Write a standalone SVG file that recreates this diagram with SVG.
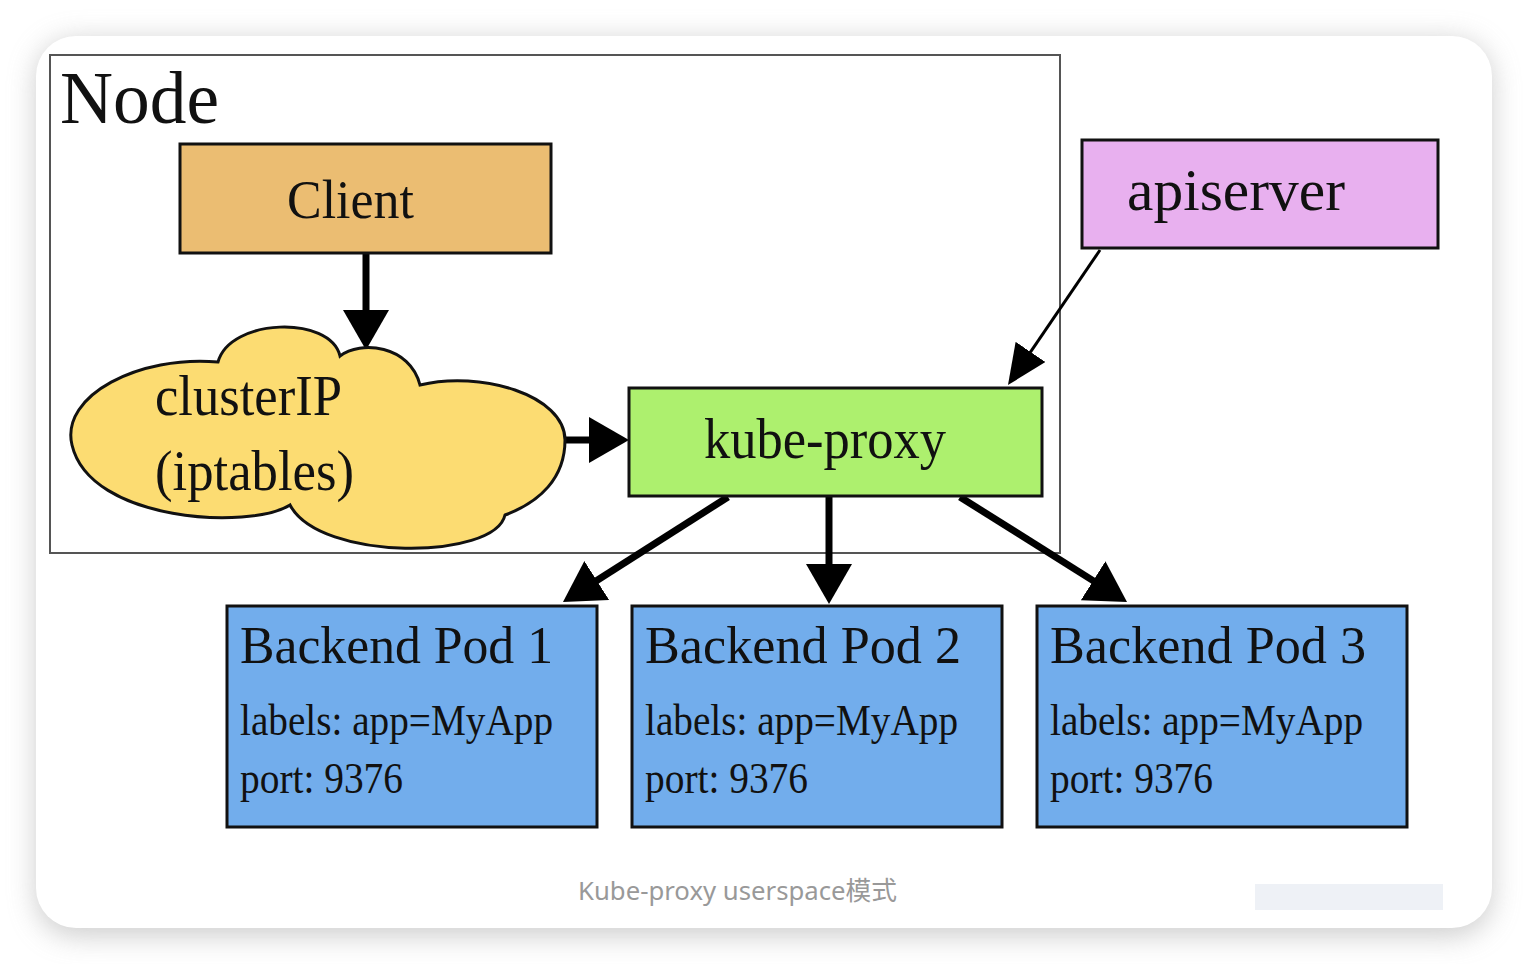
<svg xmlns="http://www.w3.org/2000/svg" width="1528" height="964" viewBox="0 0 1528 964">
  <style>
    .serif { font-family: "Liberation Serif", "Times New Roman", serif; fill: #111; }
    .box { stroke: #111; stroke-width: 3; }
    .thick { stroke: #000; stroke-width: 7; fill: none; }
    .thin { stroke: #000; stroke-width: 3; fill: none; }
  </style>
  <defs>
    <filter id="shadow" x="-10%" y="-10%" width="120%" height="120%">
      <feGaussianBlur stdDeviation="14"/>
    </filter>
    <marker id="headBig" markerUnits="userSpaceOnUse" markerWidth="40" markerHeight="46" viewBox="0 0 40 46" refX="5" refY="23" orient="auto">
      <path d="M0,0 L40,23 L0,46 Z" fill="#000"/>
    </marker>
    <marker id="headThin" markerUnits="userSpaceOnUse" markerWidth="40" markerHeight="36" viewBox="0 0 40 36" refX="5" refY="18" orient="auto">
      <path d="M0,0 L40,18 L0,36 Z" fill="#000"/>
    </marker>
  </defs>

  <!-- page background and card -->
  <rect x="0" y="0" width="1528" height="964" fill="#ffffff"/>
  <rect x="36" y="40" width="1456" height="896" rx="40" fill="#bdbdbd" filter="url(#shadow)" opacity="0.75"/>
  <rect x="36" y="36" width="1456" height="892" rx="40" fill="#ffffff"/>

  <!-- Node frame -->
  <g id="node-frame">
    <rect x="50" y="55" width="1010" height="498" fill="none" stroke="#555" stroke-width="2"/>
    <text class="serif" x="60" y="123" font-size="74" textLength="159" lengthAdjust="spacingAndGlyphs">Node</text>
  </g>

  <!-- connectors -->
  <g id="connectors">
    <line class="thick" x1="366" y1="254" x2="366" y2="315" marker-end="url(#headBig)"/>
    <line class="thick" x1="565" y1="440" x2="594" y2="440" marker-end="url(#headBig)"/>
    <line class="thin" x1="1100" y1="250" x2="1027.7" y2="356.1" marker-end="url(#headThin)"/>
    <line class="thick" x1="728" y1="497" x2="592.5" y2="583.2" marker-end="url(#headBig)"/>
    <line class="thick" x1="829" y1="497" x2="829" y2="569" marker-end="url(#headBig)"/>
    <line class="thick" x1="960" y1="497" x2="1097.4" y2="583.4" marker-end="url(#headBig)"/>
  </g>

  <g id="client">
    <rect class="box" x="180" y="144" width="371" height="109" fill="#ebbd72"/>
    <text class="serif" x="287" y="218" font-size="55" textLength="127" lengthAdjust="spacingAndGlyphs">Client</text>
  </g>

  <g id="apiserver">
    <rect class="box" x="1082" y="140" width="356" height="108" fill="#e8b0ef"/>
    <text class="serif" x="1127" y="210" font-size="60" textLength="218" lengthAdjust="spacingAndGlyphs">apiserver</text>
  </g>

  <g id="clusterip">
    <path d="M218,362 C230,318 330,315 340,356 C360,340 410,345 420,385 C480,370 565,395 565,440 C565,478 540,502 505,515 C495,560 320,562 290,505 C250,530 90,522 72,445 C60,395 140,355 218,362 Z" fill="#fcdc72" stroke="#111" stroke-width="3"/>
    <text class="serif" x="155" y="415" font-size="57" textLength="187" lengthAdjust="spacingAndGlyphs">clusterIP</text>
    <text class="serif" x="155" y="490" font-size="57" textLength="199" lengthAdjust="spacingAndGlyphs">(iptables)</text>
  </g>

  <g id="kube-proxy">
    <rect class="box" x="629" y="388" width="413" height="108" fill="#adf06e"/>
    <text class="serif" x="704" y="458" font-size="58" textLength="242" lengthAdjust="spacingAndGlyphs">kube-proxy</text>
  </g>

  <g id="pod1">
    <rect class="box" x="227" y="606" width="370" height="221" fill="#72adec"/>
    <text class="serif" x="240" y="663" font-size="53" textLength="313" lengthAdjust="spacingAndGlyphs">Backend Pod 1</text>
    <text class="serif" x="240" y="735" font-size="44" textLength="313" lengthAdjust="spacingAndGlyphs">labels: app=MyApp</text>
    <text class="serif" x="240" y="793" font-size="44" textLength="163" lengthAdjust="spacingAndGlyphs">port: 9376</text>
  </g>

  <g id="pod2">
    <rect class="box" x="632" y="606" width="370" height="221" fill="#72adec"/>
    <text class="serif" x="645" y="663" font-size="53" textLength="316" lengthAdjust="spacingAndGlyphs">Backend Pod 2</text>
    <text class="serif" x="645" y="735" font-size="44" textLength="313" lengthAdjust="spacingAndGlyphs">labels: app=MyApp</text>
    <text class="serif" x="645" y="793" font-size="44" textLength="163" lengthAdjust="spacingAndGlyphs">port: 9376</text>
  </g>

  <g id="pod3">
    <rect class="box" x="1037" y="606" width="370" height="221" fill="#72adec"/>
    <text class="serif" x="1050" y="663" font-size="53" textLength="316" lengthAdjust="spacingAndGlyphs">Backend Pod 3</text>
    <text class="serif" x="1050" y="735" font-size="44" textLength="313" lengthAdjust="spacingAndGlyphs">labels: app=MyApp</text>
    <text class="serif" x="1050" y="793" font-size="44" textLength="163" lengthAdjust="spacingAndGlyphs">port: 9376</text>
  </g>

  <!-- caption -->
  <text x="578" y="900" font-family="'Noto Sans', 'Noto Sans CJK SC', sans-serif" font-size="26" fill="#999" textLength="319" lengthAdjust="spacingAndGlyphs">Kube-proxy userspace模式</text>
  <rect x="1255" y="884" width="188" height="26" fill="#eef1f6"/>
</svg>
